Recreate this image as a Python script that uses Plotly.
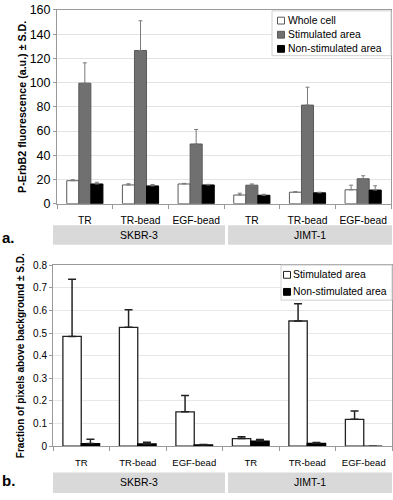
import plotly.graph_objects as go

# ---- data ----
treatments = ["TR", "TR-bead", "EGF-bead", "TR", "TR-bead", "EGF-bead"]
cell_lines = ["SKBR-3", "JIMT-1"]
series_a = ["Whole cell", "Stimulated area", "Non-stimulated area"]
series_b = ["Stimulated area", "Non-stimulated area"]

# panel a: P-ErbB2 fluorescence
a_whole = [19.0, 15.5, 16.3, 7.2, 9.5, 11.5]
a_whole_sd = [0.8, 1.0, 0.5, 1.5, 0.5, 3.8]
a_stim = [99.5, 126.5, 49.3, 15.3, 81.4, 20.6]
a_stim_sd = [16.8, 24.5, 12.0, 1.0, 14.8, 2.5]
a_non = [16.3, 14.7, 15.5, 7.0, 9.0, 11.3]
a_non_sd = [1.4, 1.2, 0.5, 0.8, 0.5, 3.5]

# panel b: fraction of pixels above background
b_stim = [0.485, 0.525, 0.152, 0.034, 0.553, 0.119]
b_stim_sd = [0.252, 0.078, 0.072, 0.008, 0.076, 0.037]
b_non = [0.012, 0.010, 0.006, 0.023, 0.013, 0.0]
b_non_sd = [0.019, 0.008, 0.002, 0.007, 0.003, 0.0]

idx = list(range(len(treatments)))
FONT = "Liberation Sans, Arial, sans-serif"

# styles
a_fill = ["white", "#707070", "black"]
a_edge = ["#5a5a5a", "#5a5a5a", "black"]
b_fill = ["white", "black"]
b_edge = ["#222222", "black"]

fig = go.Figure()

def err(arr, color, thick, width):
    return dict(type="data", array=arr, arrayminus=[0] * len(arr), symmetric=False,
                color=color, thickness=thick, width=width, visible=True)

for name, vals, sds, fc, ec in zip(series_a, [a_whole, a_stim, a_non],
                                   [a_whole_sd, a_stim_sd, a_non_sd], a_fill, a_edge):
    fig.add_trace(go.Bar(x=idx, y=vals, name=name, xaxis="x", yaxis="y", showlegend=False,
                         marker=dict(color=fc, line=dict(color=ec, width=1)),
                         error_y=err(sds, "#7a7a7a", 1, 2)))

for name, vals, sds, fc, ec in zip(series_b, [b_stim, b_non], [b_stim_sd, b_non_sd],
                                   b_fill, b_edge):
    fig.add_trace(go.Bar(x=idx, y=vals, name=name, xaxis="x2", yaxis="y2", showlegend=False,
                         marker=dict(color=fc, line=dict(color=ec, width=1.3)),
                         error_y=err(sds, "#222", 1.5, 4)))

W, H = 393, 500
def px(x): return x / W
def py(y): return 1 - y / H

axis_common = dict(showline=True, linecolor="#9a9a9a", linewidth=1, mirror=True,
                   zeroline=False, color="black")

def xax(domain, anchor, fsize):
    return dict(domain=domain, anchor=anchor, range=[-0.5, 5.5],
                tickvals=idx, ticktext=treatments, ticks="", showgrid=False,
                tickfont=dict(size=fsize), ticklabelstandoff=7,
                minor=dict(tickmode="linear", tick0=-0.5, dtick=1, ticks="outside",
                           ticklen=4, tickcolor="#9a9a9a", showgrid=False),
                **axis_common)

fig.update_layout(
    width=W, height=H, margin=dict(l=0, r=0, t=0, b=0),
    paper_bgcolor="white", plot_bgcolor="white",
    barmode="group", bargap=0.35, bargroupgap=0, showlegend=False,
    font=dict(family=FONT, color="black"),
    xaxis=xax([px(57), px(391)], "y", 10.3),
    yaxis=dict(domain=[py(203), py(4)], anchor="x", range=[0, 160], dtick=20,
               showgrid=True, gridcolor="#e3e3e3", ticks="outside", ticklen=3,
               tickcolor="#9a9a9a", tickfont=dict(size=12.5),
               title=dict(text="<b>P-ErbB2 fluorescence (a.u.) ± S.D.</b>",
                          font=dict(size=10.7), standoff=0),
               **axis_common),
    xaxis2=xax([px(53), px(392)], "y2", 9.5),
    yaxis2=dict(domain=[py(452), py(266)], anchor="x2", range=[0, 0.8], dtick=0.1,
                tickformat=".1~f",
                showgrid=True, gridcolor="#e8e8e8", ticks="outside", ticklen=3,
                tickcolor="#9a9a9a", tickfont=dict(size=10),
                title=dict(text="<b>Fraction of pixels above background ± S.D.</b>",
                           font=dict(size=10), standoff=6),
                **axis_common),
)

shapes = []
annotations = []

# legends (drawn as boxes + small squares + text)
def add_legend(names, fills, edges, box, ys, sq_x, txt_x):
    x0, y0, x1, y1 = box
    shapes.append(dict(type="rect", xref="paper", yref="paper",
                       x0=px(x0), x1=px(x1), y0=py(y1), y1=py(y0),
                       fillcolor="white", line=dict(color="#d0d0d0", width=1)))
    for name, fc, ec, yc in zip(names, fills, edges, ys):
        shapes.append(dict(type="rect", xref="paper", yref="paper",
                           x0=px(sq_x), x1=px(sq_x + 7), y0=py(yc + 3.5), y1=py(yc - 3.5),
                           fillcolor=fc, line=dict(color=ec, width=1)))
        annotations.append(dict(text=name, xref="paper", yref="paper", x=px(txt_x),
                                y=py(yc), xanchor="left", yanchor="middle", showarrow=False,
                                font=dict(size=10.4)))

add_legend(series_a, a_fill, ["#5a5a5a", "#5a5a5a", "black"], (272, 5, 391, 51),
           [15, 29.5, 44], 277.5, 286)
add_legend(series_b, b_fill, b_edge, (281, 266, 392, 302), [276, 293.5], 283.5, 291)

# group bands and labels
bands = [(53, 225), (228, 392)]
for (x0, x1), name in zip(bands, cell_lines):
    for (y0, y1, ytext) in [(225, 245, 235), (479, 500, 489)]:
        shapes.append(dict(type="rect", xref="paper", yref="paper",
                           x0=px(x0), x1=px(x1), y0=py(y1), y1=py(y0),
                           fillcolor="#d9d9d9", line=dict(width=0), layer="below"))
        annotations.append(dict(text=name, xref="paper", yref="paper",
                                x=px((x0 + x1) / 2), y=py(ytext), showarrow=False,
                                font=dict(size=10.5), xanchor="center", yanchor="middle"))
annotations.append(dict(text="<b>a.</b>", xref="paper", yref="paper", x=0, y=py(238),
                        xanchor="left", yanchor="middle", showarrow=False, font=dict(size=15)))
annotations.append(dict(text="<b>b.</b>", xref="paper", yref="paper", x=0, y=py(487),
                        xanchor="left", yanchor="middle", showarrow=False, font=dict(size=15)))
fig.update_layout(shapes=shapes, annotations=annotations)

fig.write_html("out.html", config={"displayModeBar": False},
               post_script="document.body.style.margin='0';document.body.style.overflow='hidden';")
